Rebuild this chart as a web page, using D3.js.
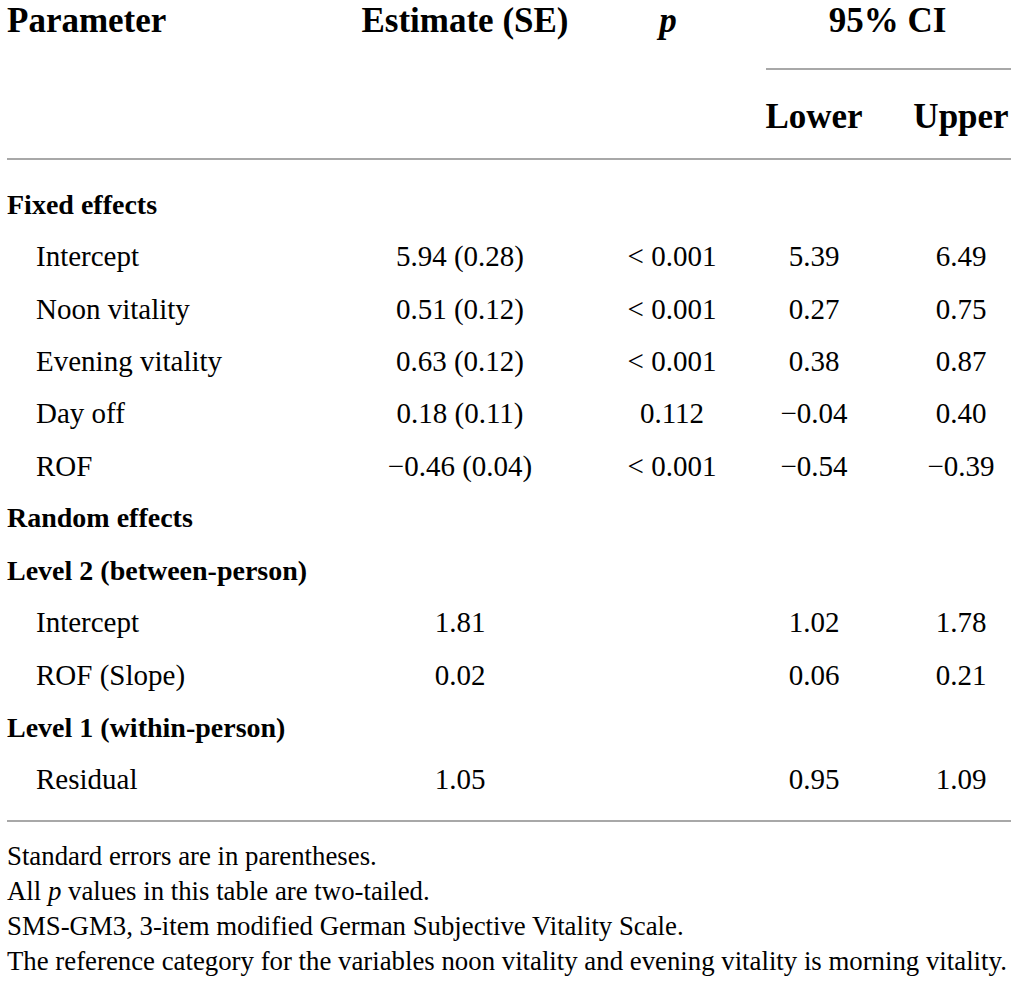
<!DOCTYPE html>
<html>
<head>
<meta charset="utf-8">
<script src="https://cdn.jsdelivr.net/npm/d3@7"></script>
<style>
	body { margin: 0; background: #fff; }
	text { font-family: "Liberation Serif", "DejaVu Serif", serif; fill: #000; }
</style>
</head>
<body>
<div id="table"></div>
<script>
var width = 1017,
	height = 986;

// table content
var parameters = ["Fixed effects", "Intercept", "Noon vitality", "Evening vitality", "Day off", "ROF",
	"Random effects", "Level 2 (between-person)", "Intercept", "ROF (Slope)", "Level 1 (within-person)", "Residual"];
var isSection = [true, false, false, false, false, false, true, true, false, false, true, false];
var estimates = ["", "5.94 (0.28)", "0.51 (0.12)", "0.63 (0.12)", "0.18 (0.11)", "\u22120.46 (0.04)",
	"", "", "1.81", "0.02", "", "1.05"];
var pValues = ["", "< 0.001", "< 0.001", "< 0.001", "0.112", "< 0.001", "", "", "", "", "", ""];
var lowerCI = ["", "5.39", "0.27", "0.38", "\u22120.04", "\u22120.54", "", "", "1.02", "0.06", "", "0.95"];
var upperCI = ["", "6.49", "0.75", "0.87", "0.40", "\u22120.39", "", "", "1.78", "0.21", "", "1.09"];
var footnotes = [
	["Standard errors are in parentheses."],
	["All ", "p", " values in this table are two-tailed."],
	["SMS-GM3, 3-item modified German Subjective Vitality Scale."],
	["The reference category for the variables noon vitality and evening vitality is morning vitality."]
];

var columns = ["estimate", "p", "lower", "upper"];
var colScale = d3.scaleOrdinal().domain(columns).range([460, 672, 814, 961]);
var rowScale = d3.scaleLinear().domain([0, parameters.length - 1]).range([204, 779]);
var noteScale = d3.scaleLinear().domain([0, footnotes.length - 1]).range([856, 961]);

var svg = d3.select("#table")
	.append("svg")
	.attr("width", width)
	.attr("height", height);

// header
var header = svg.append("g")
	.attr("class", "header")
	.style("font-weight", "bold")
	.style("font-size", "35px");

header.append("text")
	.attr("x", 7)
	.attr("y", 32)
	.text("Parameter");

header.append("text")
	.attr("x", colScale("estimate") + 5)
	.attr("y", 32)
	.attr("text-anchor", "middle")
	.text("Estimate (SE)");

header.append("text")
	.attr("x", colScale("p") - 4)
	.attr("y", 32)
	.attr("text-anchor", "middle")
	.style("font-style", "italic")
	.text("p");

header.append("text")
	.attr("x", (colScale("lower") + colScale("upper")) / 2)
	.attr("y", 32)
	.attr("text-anchor", "middle")
	.text("95% CI");

header.selectAll(".sub")
	.data(["Lower", "Upper"])
	.enter()
	.append("text")
	.attr("class", "sub")
	.attr("x", function(d, i) { return colScale(i === 0 ? "lower" : "upper"); })
	.attr("y", 128)
	.attr("text-anchor", "middle")
	.text(function(d) { return d; });

// rules
var rules = [
	{x1: 766, x2: 1011, y: 69},
	{x1: 7, x2: 1011, y: 159},
	{x1: 7, x2: 1011, y: 821}
];
svg.selectAll(".rule")
	.data(rules)
	.enter()
	.append("line")
	.attr("class", "rule")
	.attr("x1", function(d) { return d.x1; })
	.attr("x2", function(d) { return d.x2; })
	.attr("y1", function(d) { return d.y; })
	.attr("y2", function(d) { return d.y; })
	.style("stroke", "#a8a8a8")
	.style("stroke-width", 2);

// body rows
var rows = svg.selectAll(".row")
	.data(parameters)
	.enter()
	.append("g")
	.attr("class", "row")
	.attr("transform", function(d, i) { return "translate(0," + rowScale(i) + ")"; })
	.style("font-size", "29px");

rows.append("text")
	.attr("x", function(d, i) { return isSection[i] ? 7 : 36; })
	.attr("dy", "0.35em")
	.style("font-weight", function(d, i) { return isSection[i] ? "bold" : "normal"; })
	.style("font-size", function(d, i) { return isSection[i] ? "28px" : "29px"; })
	.text(function(d) { return d; });

var cellData = [estimates, pValues, lowerCI, upperCI];
columns.forEach(function(col, c) {
	rows.append("text")
		.attr("x", colScale(col))
		.attr("dy", "0.35em")
		.attr("text-anchor", "middle")
		.text(function(d, i) { return cellData[c][i]; });
});

// footnotes
var notes = svg.selectAll(".note")
	.data(footnotes)
	.enter()
	.append("text")
	.attr("class", "note")
	.attr("x", 7)
	.attr("y", function(d, i) { return noteScale(i); })
	.attr("dy", "0.35em")
	.style("font-size", "26.8px");

notes.selectAll("tspan")
	.data(function(d) { return d; })
	.enter()
	.append("tspan")
	.style("font-style", function(d) { return d === "p" ? "italic" : "normal"; })
	.text(function(d) { return d; });
</script>
</body>
</html>
